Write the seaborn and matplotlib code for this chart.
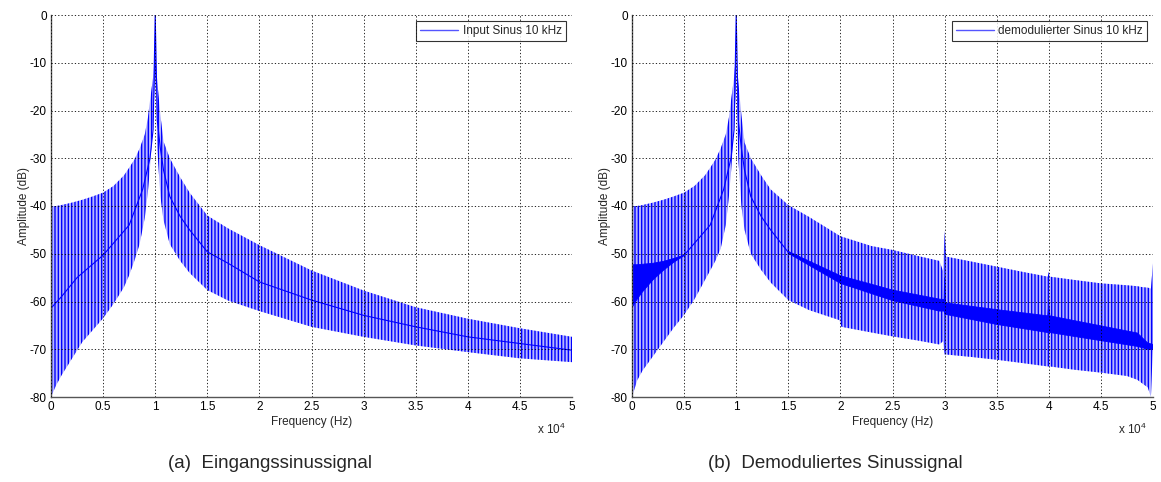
import numpy as np
import matplotlib
matplotlib.use("Agg")
import matplotlib.pyplot as plt
import seaborn as sns

# ---------------------------------------------------------------
# Spectrum of the 10 kHz input sine (panel a): leakage envelope
# ---------------------------------------------------------------
freq_a = [0, 500, 1000, 2000, 3000, 4000, 5000, 6000, 7000, 7500, 8000, 8500,
          9000, 9300, 9500, 9800, 9950, 10000, 10050, 10200, 10500, 10800,
          11400, 12400, 13300, 15000, 17000, 20000, 25000, 30000, 35000,
          40000, 45000, 50000]
upper_a = [-40, -40, -39.8, -39.3, -38.7, -38, -37.2, -35.8, -33.6, -32, -30.3,
           -28, -25, -21.5, -18, -13, -9, 0, -9, -14, -21, -26.5, -30, -34,
           -37.2, -42, -44.7, -48.2, -53.5, -57.7, -61.2, -63.6, -65.6, -67.4]
lower_a = [-80, -77.5, -75.5, -72, -68.5, -66, -63.5, -60.5, -57, -54.5, -51.5,
           -48, -42.5, -37, -32, -22, -15, -12, -15, -28, -38, -43, -48, -51.5,
           -54, -57.6, -59.8, -62, -65.3, -67.4, -69.2, -70.6, -71.9, -72.7]

mid_freq_a = [0, 1000, 2500, 5000, 7500, 8800, 9500, 9800, 10000, 10200, 10500,
              10800, 11400, 12400, 13300, 15000, 17000, 20000, 25000, 30000,
              35000, 40000, 45000, 50000]
mid_a = [-61.4, -59, -55, -50.3, -44, -36.5, -30, -24, 0, -22, -28, -32.5, -38,
         -42.2, -45, -49.6, -52, -55.9, -59.7, -62.9, -65.3, -67.4, -68.8, -70.2]

# ---------------------------------------------------------------
# Spectrum of the demodulated sine (panel b)
# ---------------------------------------------------------------
freq_b = [0, 500, 1000, 2000, 3000, 4000, 5000, 6000, 7000, 7500, 8000, 8500,
          9000, 9300, 9500, 9800, 9950, 10000, 10050, 10200, 10500, 10800,
          11400, 12400, 13300, 15000, 17000, 19900, 20100, 23000, 25000, 27500,
          29500, 29850, 30000, 30150, 32500, 35000, 37500, 39900, 40000, 40100,
          42500, 45000, 47500, 48500, 49000, 49500, 49800, 50000]
upper_b = [-40, -40, -39.8, -39.3, -38.7, -38, -37.2, -35.8, -33.6, -32, -30.3,
           -28, -25, -21.5, -18, -13, -9, 0, -9, -14, -21, -26.7, -30, -33.6,
           -36.5, -39.8, -42.3, -46.2, -46.4, -48.4, -49.2, -50.5, -51.5, -53.6,
           -45.2, -50.6, -51.6, -52.7, -53.8, -54.8, -53.8, -54.8, -55.5, -56.2,
           -56.6, -56.8, -57, -57.1, -57.3, -52]
lower_b = [-80, -76.5, -74.5, -71.5, -68.5, -65.5, -62.8, -59.5, -55.5, -53.5,
           -51.5, -49, -44, -38, -33, -23, -16, -12, -16, -30, -40, -45, -50,
           -53.4, -56, -59.7, -61.8, -63.9, -65.3, -66.5, -67.3, -68.2, -69,
           -68.3, -71.1, -71.1, -71.6, -72.2, -72.9, -73.6, -73.6, -73.6, -74.3,
           -74.9, -75.6, -76.4, -77.2, -78, -80, -68.7]

# dense intermodulation band around the carrier residue
core_freq_b = [0, 500, 1000, 2000, 3000, 4000, 5000, 10000, 15000, 20000,
               25000, 29500, 29950, 30000, 30100, 35000, 39900, 40000, 40100,
               45000, 48500, 49500, 50000]
core_top_b = [-52.3, -52.3, -52.2, -52, -51.6, -51, -50.3, np.nan, -49.5, -54.6,
              -57.6, -59.5, -59.6, -55, -60.3, -61.7, -63, -60.5, -63, -65.1,
              -66.6, -68.7, -69]
core_bot_b = [-61.3, -59.5, -58, -55.5, -53.5, -51.8, -50.4, np.nan, -49.9,
              -56.2, -59.8, -62, -62, -62.5, -62.7, -64.8, -66.5, -66.5, -66.5,
              -68.2, -69.4, -70, -70]

mid_freq_b = [5000, 7500, 8800, 9500, 9800, 10000, 10200, 10500, 10800, 11400,
              12400, 13300, 15000, 17000, 20000]
mid_b = [-50.3, -44, -36.5, -30, -24, 0, -22, -28, -32.5, -38, -42.2, -45,
         -49.7, -52, -55.4]

# axis ticks
x_ticks = [0, 5000, 10000, 15000, 20000, 25000, 30000, 35000, 40000, 45000, 50000]
x_tick_labels = ['0', '0.5', '1', '1.5', '2', '2.5', '3', '3.5', '4', '4.5', '5']
y_ticks = [-80, -70, -60, -50, -40, -30, -20, -10, 0]
y_tick_labels = ['-80', '-70', '-60', '-50', '-40', '-30', '-20', '-10', '0']

legend_a = 'Input Sinus 10 kHz'
legend_b = 'demodulierter Sinus 10 kHz'
caption_a = '(a)  Eingangssinussignal'
caption_b = '(b)  Demoduliertes Sinussignal'

# ---------------------------------------------------------------
sns.set_style("white")
plt.rcParams['font.family'] = ['Liberation Sans', 'DejaVu Sans']
plt.rcParams['mathtext.default'] = 'regular'
plt.rcParams['hatch.linewidth'] = 1.0
plt.rcParams['hatch.color'] = '#0000ff'

BLUE = '#0000ff'
BAND_FACE = '#b6b6ff'
W, H = 1161, 482
fig = plt.figure(figsize=(W / 100, H / 100), dpi=100)
ax_a = fig.add_axes([51 / W, 1 - 397 / H, 521 / W, 382 / H])
ax_b = fig.add_axes([632 / W, 1 - 397 / H, 521 / W, 382 / H])


def style_axes(ax, legend_text):
    ax.set_xlim(0, 50000)
    ax.set_ylim(-80, 0)
    ax.set_xticks(x_ticks)
    ax.set_xticklabels(x_tick_labels)
    ax.set_yticks(y_ticks)
    ax.set_yticklabels(y_tick_labels)
    ax.tick_params(direction='in', length=3, width=0.6, labelsize=8.5,
                   colors='black', pad=3)
    ax.grid(True, color='black', linestyle=(0, (1.5, 2.5)), linewidth=0.6)
    ax.set_axisbelow(False)
    for side in ('top', 'right'):
        ax.spines[side].set_visible(False)
    for side in ('left', 'bottom'):
        ax.spines[side].set_color('#555555')
        ax.spines[side].set_linewidth(1.0)
    ax.set_xlabel('Frequency (Hz)', fontsize=8.5, labelpad=2)
    ax.set_ylabel('Amplitude (dB)', fontsize=8.5, labelpad=0)
    ax.text(0.988, -0.085, 'x 10$^{4}$', transform=ax.transAxes,
            ha='right', va='center', fontsize=8.5)
    leg = ax.legend(handles=[plt.Line2D([], [], color='#5555ff', lw=1.0)],
                    labels=[legend_text], loc='upper right', fontsize=8.5,
                    frameon=True, fancybox=False, edgecolor='black',
                    handlelength=3.2, borderpad=0.35, borderaxespad=0.5,
                    handletextpad=0.4)
    leg.get_frame().set_linewidth(0.8)


# panel a
ax_a.fill_between(freq_a, lower_a, upper_a, facecolor=BAND_FACE,
                  edgecolor=BLUE, hatch='|||||', linewidth=0)
sns.lineplot(x=mid_freq_a, y=mid_a, ax=ax_a, color=BLUE, lw=0.8, legend=False)
style_axes(ax_a, legend_a)

# panel b
ax_b.fill_between(freq_b, lower_b, upper_b, facecolor=BAND_FACE,
                  edgecolor=BLUE, hatch='|||||', linewidth=0)
ax_b.fill_between(core_freq_b, core_bot_b, core_top_b, facecolor=BLUE,
                  edgecolor=BLUE, linewidth=0.6)
sns.lineplot(x=mid_freq_b, y=mid_b, ax=ax_b, color=BLUE, lw=0.8, legend=False)
style_axes(ax_b, legend_b)

fig.text(270 / W, 1 - 464 / H, caption_a, ha='center', va='center', fontsize=13.5)
fig.text(835 / W, 1 - 464 / H, caption_b, ha='center', va='center', fontsize=13.5)

fig.savefig('out.png', dpi=100)
